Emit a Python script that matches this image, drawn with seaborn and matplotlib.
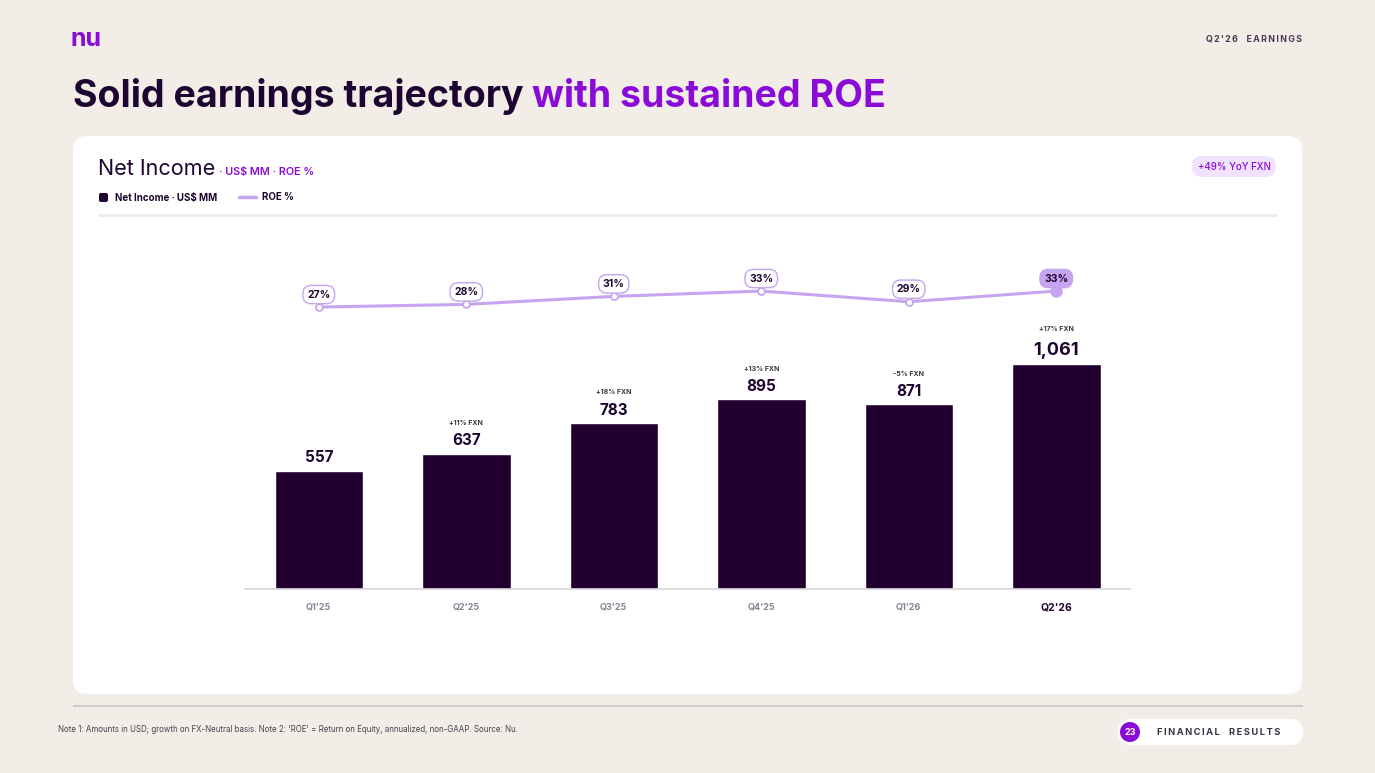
import matplotlib
matplotlib.use("Agg")
import matplotlib.pyplot as plt
from matplotlib.patches import FancyBboxPatch, Circle
import seaborn as sns
import pandas as pd

# Data
quarters = ["Q1'25", "Q2'25", "Q3'25", "Q4'25", "Q1'26", "Q2'26"]
net_income = [557, 637, 783, 895, 871, 1061]
roe = [27, 28, 31, 33, 29, 33]
growth = ["", "+11% FXN", "+18% FXN", "+13% FXN", "-5% FXN", "+17% FXN"]

# Colours
BG = "#F2EEE7"
DARK = "#1E0430"
BAR = "#210030"
PURPLE = "#8A0BD8"
LAV = "#C6A4F0"
GREY = "#8E8296"

W, H = 1375, 773

sns.set_theme(style="white")
plt.rcParams['font.family'] = ['Inter', 'DejaVu Sans']

fig = plt.figure(figsize=(W / 100, H / 100), dpi=100, facecolor=BG)

# capa de decoracion en pixeles
deco = fig.add_axes([0, 0, 1, 1], zorder=0)
deco.set_xlim(0, W)
deco.set_ylim(H, 0)
deco.axis('off')

deco.add_patch(FancyBboxPatch((73, 136), 1229, 558,
                              boxstyle="round,pad=0,rounding_size=14",
                              fc='white', ec='none'))
deco.plot([98, 1277], [215, 215], color='#EEEBEF', lw=2.2, solid_capstyle='butt')
deco.plot([73, 1303], [706, 706], color='#CFC9C6', lw=1.3, solid_capstyle='butt')

# cabecera
deco.text(71, 39, "nu", color=PURPLE, fontsize=18, fontweight='bold',
          va='center', ha='left')
deco.text(1302, 39, "Q\u20092\u2009'\u20092\u20096\u2003E\u2009A\u2009R\u2009N\u2009I\u2009N\u2009G\u2009S",
          color='#4A3552', fontsize=6.3, fontweight='bold', ha='right', va='center')

renderer = fig.canvas.get_renderer()
t1 = deco.text(73, 107, "Solid earnings trajectory ", color=DARK, fontsize=27,
               fontweight='bold', ha='left', va='baseline')
bb = t1.get_window_extent(renderer)
deco.text(bb.x1, 107, "with sustained ROE", color=PURPLE, fontsize=27,
          fontweight='bold', ha='left', va='baseline')

# cabecera de la tarjeta
t2 = deco.text(98, 175, "Net Income", color=DARK, fontsize=15.5, ha='left', va='baseline')
bb = t2.get_window_extent(renderer)
deco.text(bb.x1 + 4, 175, "· US$ MM · ROE %", color=PURPLE, fontsize=7.8,
          fontweight='semibold', ha='left', va='baseline')

# leyenda
deco.add_patch(FancyBboxPatch((99, 193), 9, 9, boxstyle="round,pad=0,rounding_size=2",
                              fc=DARK, ec='none'))
deco.text(115, 197.5, "Net Income · US$ MM", color=DARK, fontsize=7,
          fontweight='bold', ha='left', va='center')
deco.plot([239, 256], [197, 197], color=LAV, lw=2.5, solid_capstyle='round')
deco.text(262, 197.5, "ROE %", color=DARK, fontsize=7, fontweight='bold',
          ha='left', va='center')

# etiqueta
deco.add_patch(FancyBboxPatch((1192, 156), 84, 21, boxstyle="round,pad=0,rounding_size=10",
                              fc='#F1E3FD', ec='none'))
deco.text(1234, 167, "+49% YoY FXN", color=PURPLE, fontsize=7, fontweight='medium',
          ha='center', va='center')

# pie
deco.text(58, 730, "Note 1: Amounts in USD; growth on FX-Neutral basis. Note 2: 'ROE' = Return on "
          "Equity, annualized, non-GAAP. Source: Nu.", color='#4A4050', fontsize=5.7,
          ha='left', va='center')
deco.add_patch(FancyBboxPatch((1118, 719), 185, 26, boxstyle="round,pad=0,rounding_size=13",
                              fc='white', ec='none'))
deco.add_patch(Circle((1130, 732), 10, fc=PURPLE, ec='none'))
deco.text(1130, 732.5, "23", color='white', fontsize=6.5, fontweight='bold',
          ha='center', va='center')
deco.text(1157, 732.5, "F\u2009I\u2009N\u2009A\u2009N\u2009C\u2009I\u2009A\u2009L\u2003R\u2009E\u2009S\u2009U\u2009L\u2009T\u2009S",
          color='#3A3340', fontsize=6.7, fontweight='bold', ha='left', va='center')

# grafico
ax = fig.add_axes([245 / W, (H - 589) / H, 885 / W, 339 / H], zorder=2)
ax.patch.set_alpha(0)
df = pd.DataFrame({"quarter": quarters, "net_income": net_income, "roe": roe})
sns.barplot(data=df, x="quarter", y="net_income", color=BAR, width=0.6,
            saturation=1, ax=ax)
ax.set_xlim(-0.5, len(quarters) - 0.5)
ax.set_ylim(0, 1600)
ax.set_xlabel("")
ax.set_ylabel("")
ax.set_yticks([])
for s in ['top', 'right', 'left']:
    ax.spines[s].set_visible(False)
ax.spines['bottom'].set_color('#D9D5DA')
ax.spines['bottom'].set_linewidth(1.2)
ax.tick_params(axis='x', length=0, pad=10)
for i, lbl in enumerate(ax.get_xticklabels()):
    if i == len(quarters) - 1:
        lbl.set_color(DARK)
        lbl.set_fontsize(7.5)
        lbl.set_fontweight('bold')
    else:
        lbl.set_color(GREY)
        lbl.set_fontsize(6.5)
        lbl.set_fontweight('bold')

for i, (v, g) in enumerate(zip(net_income, growth)):
    last = i == len(quarters) - 1
    ax.annotate(f"{v:,}", (i, v), xytext=(0, 4), textcoords='offset points',
                ha='center', va='bottom', fontsize=13 if last else 11,
                fontweight='bold', color=DARK)
    if g:
        ax.annotate(g, (i, v), xytext=(0, 23 if last else 20), textcoords='offset points',
                    ha='center', va='bottom', fontsize=5, fontweight='bold',
                    color='#3A3340')

# ROE en eje gemelo
ax2 = ax.twinx()
ax2.set_zorder(3)
ax2.set_ylim(-78.75, 48.4)
ax2.axis('off')
xs = list(range(len(quarters)))
sns.lineplot(x=xs, y=roe, color=LAV, lw=2.2, ax=ax2, legend=False)
ax2.plot(xs[:-1], roe[:-1], ls='none', marker='o', ms=5, mfc='white', mec=LAV, mew=1.3)
ax2.plot(xs[-1:], roe[-1:], ls='none', marker='o', ms=8, mfc=LAV, mec=LAV)
for i, r in enumerate(roe):
    last = i == len(quarters) - 1
    ax2.annotate(f"{r}%", (i, r), xytext=(0, 9), textcoords='offset points',
                 ha='center', va='center', fontsize=7.5, fontweight='bold', color=DARK,
                 bbox=dict(boxstyle="round,pad=0.4,rounding_size=0.8",
                           fc=LAV if last else 'white', ec=LAV, lw=1))

fig.savefig("out.png", dpi=100, facecolor=BG)
